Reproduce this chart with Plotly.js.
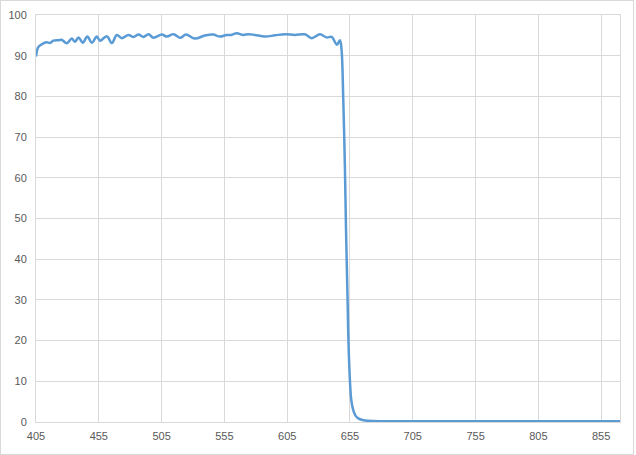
<!DOCTYPE html>
<html>
<head>
<meta charset="utf-8">
<script src="https://cdn.plot.ly/plotly-3.0.1.min.js"></script>
<style>
  html, body { margin: 0; padding: 0; background: #fff; }
  #wrap { position: relative; width: 636px; height: 455px; }
  #chart { position: absolute; left: 0; top: 0; width: 636px; height: 455px; }
  #frame { position: absolute; left: 0; top: 0; width: 634px; height: 455px; box-sizing: border-box; border: 1px solid #D9D9D9; pointer-events: none; }
</style>
</head>
<body>
<div id="wrap"><div id="chart"></div><div id="frame"></div></div>
<script>
// Wavelength (nm)
const wavelength = [
  405, 406, 407, 409.5, 413.5, 416.2, 418.8, 422.8, 425.5, 429.5,
  433.5, 436.1, 438.8, 442.2, 445.9, 449.4, 453.4, 456, 461.4, 465.4,
  469.3, 473.3, 478.6, 482.6, 486.6, 490.6, 494.6, 498.5, 505.2, 509.2,
  514.5, 519.8, 524.5, 531.5, 539.4, 546, 551.5, 556.7, 560.5, 564.7,
  570, 574, 579.3, 587.3, 595.2, 603.2, 611.2, 619.1, 624.5, 631.1,
  636.4, 640.4, 644.6, 647, 648.3, 649.6, 651, 651.8, 653.1, 653.8,
  655, 656, 657.6, 659.5, 661.6, 665, 669.6, 680, 700, 750,
  800, 850, 870
];
// Transmission (%)
const transmission = [
  89.8, 91.5, 92.2, 92.8, 93.3, 93.1, 93.7, 93.8, 93.9, 93.05,
  94.2, 93.4, 94.5, 93.2, 94.7, 93.2, 94.7, 93.7, 94.8, 93.1,
  95.1, 94.3, 95.1, 94.6, 95.2, 94.6, 95.3, 94.4, 95.2, 94.7,
  95.3, 94.4, 95.2, 94.2, 94.95, 95.2, 94.7, 95.1, 95.1, 95.5,
  95.1, 95.3, 95.1, 94.7, 95.0, 95.3, 95.1, 95.25, 94.3, 95.25,
  94.5, 94.6, 92.7, 93.8, 91.4, 79.9, 62, 48, 30, 19.7,
  9.9, 5.5, 2.9, 1.5, 0.9, 0.5, 0.3, 0.2, 0.2, 0.2,
  0.2, 0.2, 0.2
];
const xTicks = [405, 455, 505, 555, 605, 655, 705, 755, 805, 855];
const yTicks = [0, 10, 20, 30, 40, 50, 60, 70, 80, 90, 100];

const trace = {
  x: wavelength,
  y: transmission,
  type: 'scatter',
  mode: 'lines',
  line: { color: '#5B9BD5', width: 2.5, shape: 'spline', smoothing: 1 },
  hoverinfo: 'x+y'
};

const axisFont = { family: 'Liberation Sans, Arial, sans-serif', size: 11, color: '#595959' };

const layout = {
  width: 636,
  height: 455,
  margin: { l: 36, r: 16, t: 15, b: 33, pad: 0 },
  paper_bgcolor: '#ffffff',
  plot_bgcolor: '#ffffff',
  showlegend: false,
  xaxis: {
    type: 'linear',
    range: [405, 870],
    tickvals: xTicks,
    ticktext: xTicks.map(String),
    showgrid: true,
    gridcolor: '#D9D9D9',
    gridwidth: 1,
    zeroline: false,
    showline: true,
    linecolor: '#D9D9D9',
    linewidth: 1,
    mirror: true,
    ticks: '',
    ticklabelstandoff: 4,
    tickfont: axisFont,
    fixedrange: true
  },
  yaxis: {
    range: [0, 100],
    tickvals: yTicks,
    ticktext: yTicks.map(String),
    showgrid: true,
    gridcolor: '#D9D9D9',
    gridwidth: 1,
    zeroline: false,
    showline: true,
    linecolor: '#D9D9D9',
    linewidth: 1,
    mirror: true,
    ticks: '',
    ticklabelstandoff: 6,
    tickfont: axisFont,
    fixedrange: true
  }
};

Plotly.newPlot('chart', [trace], layout, { displayModeBar: false, staticPlot: true });
</script>
</body>
</html>
